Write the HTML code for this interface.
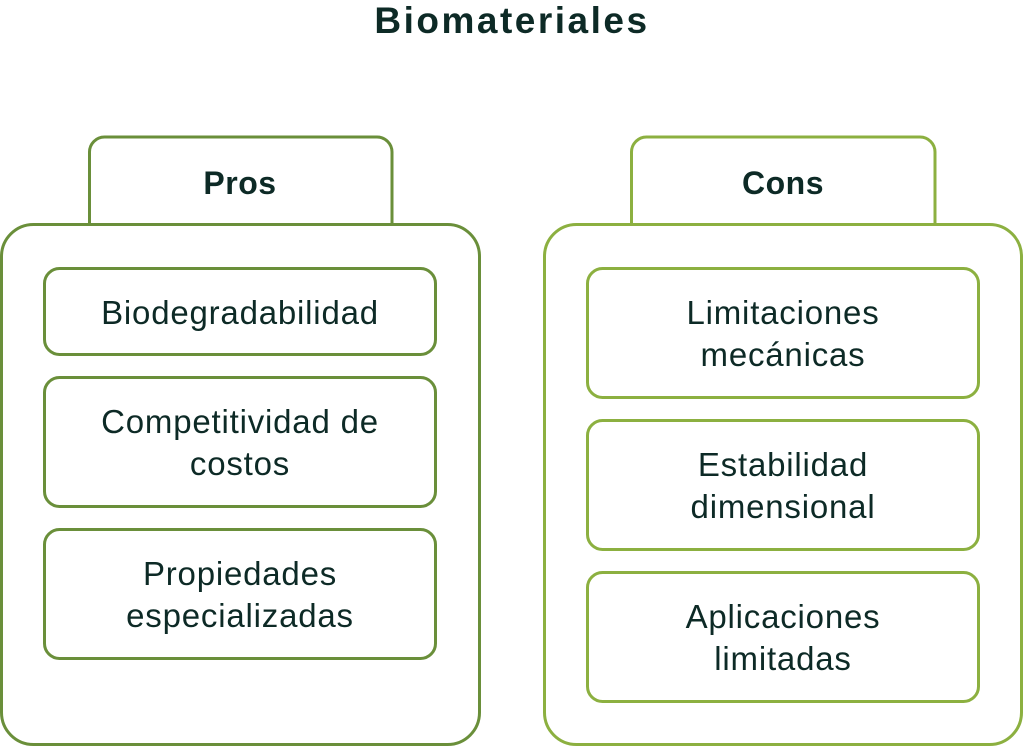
<!DOCTYPE html>
<html><head><meta charset="utf-8"><style>
html,body{margin:0;padding:0;background:#fff;width:1024px;height:748px;overflow:hidden}
svg text{font-family:"Liberation Sans",sans-serif;fill:#0d2a26;text-anchor:middle}
</style></head><body>
<svg width="1024" height="748" viewBox="0 0 1024 748">
<text x="512" y="33" font-size="37" font-weight="bold" letter-spacing="2.5">Biomateriales</text>
<g fill="none" stroke="#6a8f3a" stroke-width="3">
<path d="M89.5 224 V152 a15 15 0 0 1 15 -15 H377 a15 15 0 0 1 15 15 V224"/>
<rect x="1.5" y="224.5" width="478" height="520" rx="32"/>
<rect x="44.5" y="268.5" width="391" height="86" rx="15"/>
<rect x="44.5" y="377.5" width="391" height="129" rx="15"/>
<rect x="44.5" y="529.5" width="391" height="129" rx="15"/>
</g>
<g fill="none" stroke="#8cb040" stroke-width="3">
<path d="M631.5 224 V152 a15 15 0 0 1 15 -15 H920 a15 15 0 0 1 15 15 V224"/>
<rect x="544.5" y="224.5" width="477" height="520" rx="32"/>
<rect x="587.5" y="268.5" width="391" height="129" rx="15"/>
<rect x="587.5" y="420.5" width="391" height="129" rx="15"/>
<rect x="587.5" y="572.5" width="391" height="129" rx="15"/>
</g>
<text x="240" y="194" font-size="32" font-weight="bold" letter-spacing="0.5">Pros</text>
<text x="783" y="194" font-size="32" font-weight="bold" letter-spacing="0.5">Cons</text>
<g font-size="33" letter-spacing="0.8">
<text x="240" y="324">Biodegradabilidad</text>
<text x="240" y="433">Competitividad de</text>
<text x="240" y="475">costos</text>
<text x="240" y="585">Propiedades</text>
<text x="240" y="627">especializadas</text>
<text x="783" y="324">Limitaciones</text>
<text x="783" y="366">mecánicas</text>
<text x="783" y="476">Estabilidad</text>
<text x="783" y="518">dimensional</text>
<text x="783" y="628">Aplicaciones</text>
<text x="783" y="670">limitadas</text>
</g>
</svg>
</body></html>
